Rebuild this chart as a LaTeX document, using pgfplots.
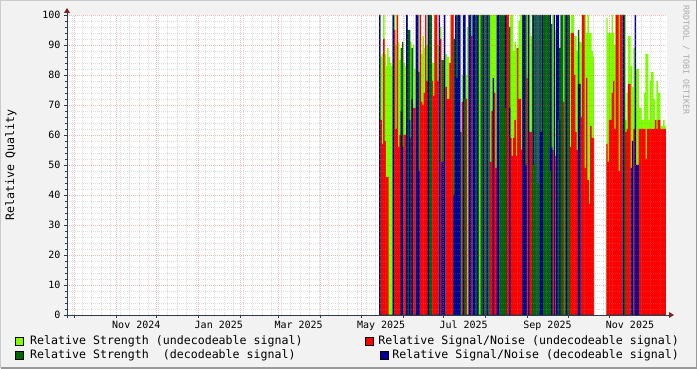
\documentclass[border=0pt]{standalone}
\usepackage{fontspec}
\setmainfont{DejaVu Sans Mono}
\usepackage{pgfplots}
\usepackage{pgfplotstable}
\pgfplotsset{compat=1.18}
\definecolor{lgc}{HTML}{80FF00}
\definecolor{rdc}{HTML}{FF0000}
\definecolor{dgc}{HTML}{006600}
\definecolor{blc}{HTML}{000099}
\definecolor{bgc}{HTML}{F2F2F2}
\definecolor{axc}{HTML}{2C3D53}
\definecolor{arc}{HTML}{7F1F1F}
\definecolor{mgr}{HTML}{DE5050}
\definecolor{gr}{HTML}{8F8F8F}

% d = days since 1 Nov 2024; lg/r = undecodeable strength / SNR; dg/b = decodeable strength / SNR; t = decodeable strength drawn over SNR
\pgfplotstableread{
d lg r dg b t
195 0 0 100 100 0
196 86 65 0 0 0
197 87 57 0 0 0
198 100 92 0 0 0
199 87 58 0 0 0
200 83 46 0 0 0
201 89 46 0 0 0
202 86 0 0 0 0
203 84 0 0 0 0
204 83 0 0 0 0
205 0 0 100 100 0
206 100 95 0 0 0
207 90 62 0 0 0
208 100 100 0 0 0
209 91 56 0 0 0
210 85 60 0 0 0
211 0 0 89 68 0
212 0 0 91 56 0
213 84 60 0 0 0
214 83 60 0 0 0
215 0 0 100 100 0
216 0 0 95 0 0
217 0 0 95 65 0
218 91 59 0 0 0
219 0 0 89 72 0
220 90 69 0 0 0
221 82 69 0 0 0
222 0 0 0 100 0
223 0 0 100 100 0
224 0 0 81 48 0
225 100 100 0 0 0
226 87 71 0 0 0
227 93 70 0 0 0
228 89 74 0 0 0
229 100 100 0 0 0
230 90 78 0 0 0
231 0 0 0 100 0
232 0 0 100 0 0
233 0 0 100 0 0
234 84 78 0 0 0
235 84 73 0 0 0
236 100 100 0 0 0
237 100 100 0 0 0
238 90 78 0 0 0
239 0 0 0 100 0
240 96 92 0 0 0
241 0 0 85 51 0
242 0 0 85 51 0
243 0 0 0 100 0
244 87 76 0 0 0
245 86 72 0 0 0
246 86 72 0 0 0
247 84 84 0 0 0
248 100 100 0 0 0
249 100 100 0 0 0
250 0 0 92 40 0
251 0 0 0 100 0
252 0 0 100 79 0
253 0 0 0 100 0
254 0 0 100 100 0
255 0 0 61 0 0
256 80 71 0 0 0
257 0 0 0 100 0
258 0 0 0 100 72
259 80 72 0 0 0
260 96 0 0 0 0
261 0 0 0 100 0
262 0 0 100 100 0
263 100 93 0 0 0
264 0 0 0 100 0
265 0 0 100 100 0
266 0 0 100 0 0
267 0 0 0 100 0
268 0 0 100 0 0
269 100 0 0 0 0
270 0 0 100 0 0
271 0 0 100 0 0
272 0 0 0 100 0
273 0 0 100 0 0
274 0 0 100 0 0
275 0 0 0 100 0
276 0 0 100 0 0
277 100 51 0 0 0
278 100 68 0 0 0
279 100 0 0 79 0
280 100 74 0 0 0
281 100 49 0 0 0
282 0 0 0 100 0
283 0 0 0 100 0
284 0 0 100 0 0
285 0 0 100 0 0
286 0 0 100 0 0
287 0 0 100 0 0
288 0 0 0 100 69
289 100 100 0 0 0
290 100 100 0 0 0
291 0 0 96 69 0
292 100 59 0 0 0
293 100 53 0 0 0
294 88 59 0 0 0
295 91 65 0 0 0
296 89 53 0 0 0
297 89 89 0 0 0
298 98 72 0 0 0
299 100 72 0 0 0
300 100 55 0 0 0
301 0 0 100 100 0
302 0 0 0 100 0
303 0 0 100 50 0
304 100 79 0 0 0
305 0 0 0 100 0
306 100 61 0 0 0
307 93 61 0 0 0
308 0 0 100 0 0
309 0 0 0 100 50
310 0 0 100 0 0
311 0 0 100 0 0
312 0 0 0 100 44
313 0 0 100 0 0
314 0 0 100 61 0
315 0 0 0 100 0
316 0 0 100 0 0
317 0 0 100 0 0
318 0 0 100 0 0
319 0 0 100 0 0
320 0 0 100 0 0
321 0 0 0 100 48
322 0 0 97 56 0
323 100 55 0 0 0
324 0 0 0 100 0
325 95 53 0 0 0
326 0 0 0 100 0
327 0 0 0 100 65
328 0 0 89 65 0
329 0 0 100 0 0
330 0 0 100 0 0
331 100 71 0 0 0
332 0 0 100 0 0
333 0 0 0 100 0
334 0 0 100 0 0
335 0 0 100 0 0
336 94 56 0 0 0
337 100 94 0 0 0
338 100 94 0 0 0
339 93 80 0 0 0
340 93 61 0 0 0
341 88 55 0 0 0
342 0 0 95 77 0
343 91 0 0 77 0
344 91 66 0 0 0
345 100 100 0 0 0
346 100 100 0 0 0
347 100 49 0 0 0
348 94 79 0 0 0
349 100 45 0 0 0
350 94 37 0 0 0
351 94 63 0 0 0
352 88 59 0 0 0
353 86 59 0 0 0
363 99 57 0 0 0
364 94 51 0 0 0
365 94 65 0 0 0
366 94 65 0 0 0
367 100 74 0 0 0
368 94 78 0 0 0
369 90 62 0 0 0
370 100 100 0 0 0
371 100 100 0 0 0
372 100 48 0 0 0
373 100 100 0 0 0
374 100 100 0 0 0
375 0 0 100 100 0
376 0 0 100 0 0
377 65 61 0 0 0
378 74 62 0 0 0
379 93 77 0 0 0
380 93 77 0 0 0
381 83 0 0 49 0
382 76 0 0 58 0
383 89 62 0 0 0
384 0 0 0 100 0
385 82 0 0 50 0
386 82 0 0 50 0
387 69 62 0 0 0
388 69 62 0 0 0
389 65 62 0 0 0
390 65 62 0 0 0
391 74 62 0 0 0
392 87 52 0 0 0
393 87 62 0 0 0
394 65 62 0 0 0
395 78 62 0 0 0
396 81 62 0 0 0
397 81 62 0 0 0
398 72 62 0 0 0
399 65 65 0 0 0
400 78 62 0 0 0
401 74 65 0 0 0
402 74 65 0 0 0
403 63 62 0 0 0
404 63 62 0 0 0
405 65 62 0 0 0
406 63 62 0 0 0
}\data

\begin{document}
\begin{tikzpicture}[x=1pt,y=1pt]
\useasboundingbox (-67,-54) rectangle (630,315);
\fill[bgc] (-67,-54) rectangle (630,315);
\draw[color={rgb,255:red,203;green,203;blue,203}, line width=1.5pt] (-66.25,-53) -- (-66.25,314.25) -- (629,314.25);
\draw[color={rgb,255:red,153;green,153;blue,153}, line width=1.5pt] (-66,-53.25) -- (629.25,-53.25) -- (629.25,315);
\begin{axis}[
  at={(0pt,0pt)}, anchor=south west,
  scale only axis, width=600pt, height=300pt,
  xmin=-36.23, xmax=407.36, ymin=0, ymax=100,
  axis background/.style={fill=white},
  axis on top,
  axis line style={draw=none},
  tick pos=left, tick align=outside,
  major tick length=3pt, minor tick length=1.5pt,
  tick style={color=axc, line width=0.5pt},
  xtick={-31,0,30,61,92,120,151,181,212,242,273,304,334,365},
  xticklabels={},
  minor xtick={-32,-25,...,407},
  extra x ticks={15,76,135,196,257,319,380},
  extra x tick labels={Nov 2024,Jan 2025,Mar 2025,May 2025,Jul 2025,Sep 2025,Nov 2025},
  extra x tick style={grid=none, major tick length=0pt},
  xticklabel style={font=\fontsize{10}{12}\selectfont, yshift=-2.5pt},
  ytick={0,10,...,100},
  minor y tick num=4,
  /pgf/number format/assume math mode=true,
  yticklabel style={font=\fontsize{10}{12}\selectfont},
  xmajorgrids, xminorgrids, ymajorgrids, yminorgrids,
  major grid style={color=mgr, opacity=0.4, line width=0.5pt, dash pattern=on 1pt off 1pt},
  minor grid style={color=gr, opacity=0.3, line width=0.5pt, dash pattern=on 1pt off 1pt},
  every axis plot/.append style={ybar, bar width=1.08, bar shift=0pt, draw=none},
]
\addplot[fill=lgc] table[x=d, y=lg] {\data};
\addplot[fill=rdc] table[x=d, y=r] {\data};
\addplot[fill=dgc] table[x=d, y=dg] {\data};
\addplot[fill=blc] table[x=d, y=b] {\data};
\addplot[fill=dgc] table[x=d, y=t] {\data};
\end{axis}
% axis lines and arrows
\draw[axc, line width=0.8pt] (-3,0) -- (602,0);
\draw[axc, line width=0.8pt] (0,-3) -- (0,302);
\fill[arc] (602,-3) -- (607,0) -- (602,3) -- cycle;
\fill[arc] (-3,302) -- (0,307) -- (3,302) -- cycle;
% y label
\node[rotate=90, font=\fontsize{11.6}{13}\selectfont, inner sep=0pt] at (-56,150) {Relative Quality};
% watermark
\node[rotate=-90, font=\fontsize{8.3}{10}\selectfont, color={rgb,255:red,170;green,170;blue,170}, inner sep=0pt] at (619,255) {RRDTOOL / TOBI OETIKER};
% legend
\begin{scope}[font=\fontsize{11.6}{13}\selectfont]
\filldraw[fill=lgc, draw=black, line width=0.5pt] (-52,-30) rectangle (-44,-22);
\node[anchor=west, inner sep=0pt] at (-37,-26.5) {Relative Strength (undecodeable signal)};
\filldraw[fill=dgc, draw=black, line width=0.5pt] (-52,-44) rectangle (-44,-36);
\node[anchor=west, inner sep=0pt] at (-37,-40.5) {Relative Strength\ \ (decodeable signal)};
\filldraw[fill=rdc, draw=black, line width=0.5pt] (298,-30) rectangle (306,-22);
\node[anchor=east, inner sep=0pt] at (612,-26.5) {Relative Signal/Noise (undecodeable signal)};
\filldraw[fill=blc, draw=black, line width=0.5pt] (313,-44) rectangle (321,-36);
\node[anchor=east, inner sep=0pt] at (612,-40.5) {Relative Signal/Noise (decodeable signal)};
\end{scope}
\end{tikzpicture}
\end{document}
